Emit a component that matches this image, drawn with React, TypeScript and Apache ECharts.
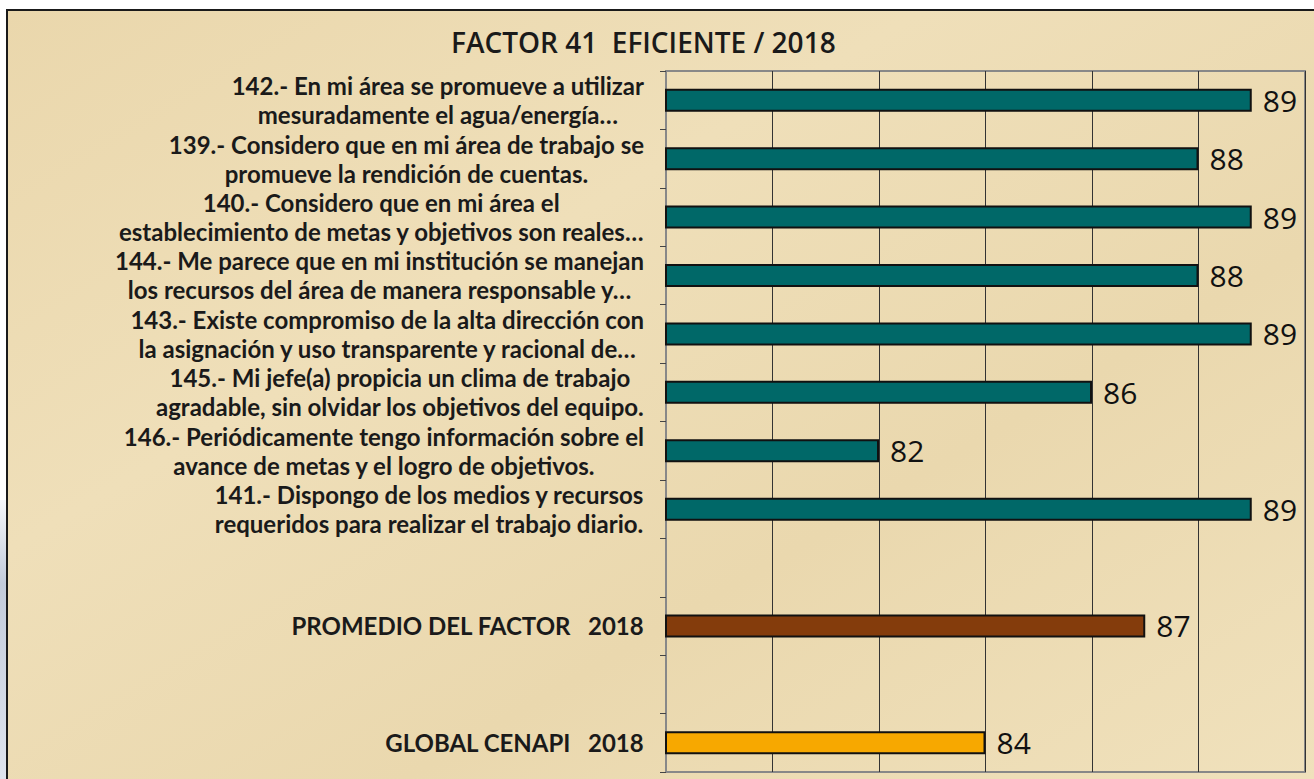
import React, { useEffect, useRef } from "react";
import * as echarts from "echarts";

const titleText = "FACTOR 41  EFICIENTE / 2018";

const categories = [
  "142.- En mi área se promueve a utilizar\nmesuradamente el agua/energía…",
  "139.- Considero que en mi área de trabajo se\npromueve la rendición de cuentas.",
  "140.- Considero que en mi área el\nestablecimiento de metas y objetivos son reales…",
  "144.- Me parece que en mi institución se manejan\nlos recursos del área de manera responsable y…",
  "143.- Existe compromiso de la alta dirección con\nla asignación y uso transparente y racional de…",
  "145.- Mi jefe(a) propicia un clima de trabajo\nagradable, sin olvidar los objetivos del equipo.",
  "146.- Periódicamente tengo información sobre el\navance de metas y el logro de objetivos.",
  "141.- Dispongo de los medios y recursos\nrequeridos para realizar el trabajo diario.",
  "",
  "PROMEDIO DEL FACTOR   2018",
  "",
  "GLOBAL CENAPI   2018",
];

const values: (number | null)[] = [89, 88, 89, 88, 89, 86, 82, 89, null, 87, null, 84];

const barColors = [
  "#006868", "#006868", "#006868", "#006868", "#006868", "#006868", "#006868", "#006868",
  "#006868", "#843C0C", "#006868", "#F7A800",
];

const xMin = 78;
const xMax = 90;
const xInterval = 2;

const FONT = "'Open Sans', 'Lato', sans-serif";
const LABEL_FONT = "Lato, 'Open Sans', sans-serif";

export default function App() {
  const ref = useRef<HTMLDivElement>(null);
  useEffect(() => {
    if (!ref.current) return;
    const chart = echarts.init(ref.current, null, { renderer: "svg" });
    chart.setOption({
      animation: false,
      backgroundColor: "#ffffff",
      title: {
        text: titleText,
        left: 446,
        top: 23,
        textStyle: { fontFamily: FONT, fontSize: 28, fontWeight: 600, color: "#1a1a1a" },
      },
      graphic: [
        {
          type: "rect",
          z: -100,
          silent: true,
          shape: { x: 7, y: 10, width: 1310, height: 772 },
          style: {
            fill: {
              type: "linear",
              x: 0, y: 0, x2: 1, y2: 1,
              colorStops: [
                { offset: 0, color: "#EAD7AC" },
                { offset: 0.35, color: "#EFDFB9" },
                { offset: 0.65, color: "#EAD8AE" },
                { offset: 1, color: "#F0E1BC" },
              ],
            },
            stroke: "#1a1a1a",
            lineWidth: 2,
          },
        },
        {
          type: "rect",
          z: -100,
          silent: true,
          shape: { x: 0, y: 500, width: 6, height: 279 },
          style: {
            fill: {
              type: "linear",
              x: 0, y: 0, x2: 0, y2: 1,
              colorStops: [
                { offset: 0, color: "#f4f6fa" },
                { offset: 0.3, color: "#c3cbda" },
                { offset: 1, color: "#dfe4ee" },
              ],
            },
          },
        },
      ],
      grid: {
        left: 666,
        right: 9,
        top: 71,
        bottom: 7,
        show: true,
        borderColor: "#888888",
        borderWidth: 2,
        backgroundColor: "transparent",
      },
      xAxis: {
        type: "value",
        min: xMin,
        max: xMax,
        interval: xInterval,
        axisLabel: { show: false },
        axisLine: { show: false },
        axisTick: { show: false },
        splitLine: { show: true, lineStyle: { color: "#333333", width: 1 } },
      },
      yAxis: {
        type: "category",
        inverse: true,
        data: categories,
        axisLine: { show: true, lineStyle: { color: "#888888", width: 2 } },
        axisTick: { show: true, inside: false, length: 6, lineStyle: { color: "#444444", width: 1 } },
        axisLabel: {
          margin: 22,
          align: "right",
          formatter: (v: string) =>
            v
              .split("\n")
              .map((l) => `{c|${l}}`)
              .join("\n"),
          rich: {
            c: {
              align: "center",
              fontFamily: LABEL_FONT,
              fontSize: 24,
              fontWeight: 700,
              color: "#1a1a1a",
              lineHeight: 29,
            },
          },
        },
      },
      series: [
        {
          type: "bar",
          barWidth: 23,
          data: values.map((v, i) => ({
            value: v,
            itemStyle: { color: barColors[i], borderColor: "#111111", borderWidth: 2 },
          })),
          label: {
            show: true,
            position: "right",
            distance: 11,
            fontFamily: FONT,
            fontSize: 30,
            fontWeight: 500,
            color: "#111111",
          },
        },
      ],
    });
    return () => chart.dispose();
  }, []);
  return (
    <div
      ref={ref}
      style={{ position: "absolute", left: 0, top: 0, width: 1314, height: 779 }}
    />
  );
}
